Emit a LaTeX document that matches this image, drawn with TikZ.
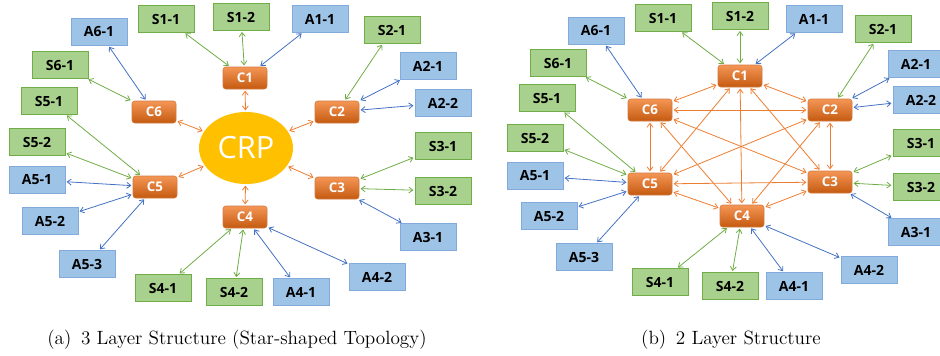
\documentclass[tikz,border=0pt]{standalone}
\usepackage{fontspec}
\setsansfont{Open Sans}
\usetikzlibrary{arrows.meta,shapes.geometric}
\definecolor{grnL}{RGB}{112,173,71}
\definecolor{grnF}{RGB}{169,209,142}
\definecolor{bluL}{RGB}{68,114,196}
\definecolor{bluF}{RGB}{157,195,230}
\definecolor{bluD}{RGB}{130,170,220}
\definecolor{orgL}{RGB}{237,125,49}
\definecolor{orgT}{RGB}{244,150,85}
\definecolor{orgB}{RGB}{197,90,17}
\definecolor{crpF}{RGB}{255,192,0}
\tikzset{
  sbox/.style={draw=grnL,fill=grnF,minimum width=42pt,minimum height=20pt,inner sep=1pt,font=\sffamily\bfseries\fontsize{10.5}{12}\selectfont},
  abox/.style={draw=bluD,fill=bluF,minimum width=42pt,minimum height=20pt,inner sep=1pt,font=\sffamily\bfseries\fontsize{10.5}{12}\selectfont},
  cbox/.style={rounded corners=2pt,top color=orgT,bottom color=orgB,draw=orgB!80,text=white,minimum width=33pt,minimum height=16.5pt,inner sep=1pt,font=\sffamily\bfseries\fontsize{10}{12}\selectfont},
  tips/.style={{Straight Barb[length=3pt,width=4.5pt]}-{Straight Barb[length=3pt,width=4.5pt]},line width=0.6pt,shorten <=1pt,shorten >=1pt},
  gl/.style={tips,grnL},
  bl/.style={tips,bluL},
  ol/.style={tips,orgL}
}
\begin{document}
\begin{tikzpicture}[x=0.75pt,y=-0.75pt]
\useasboundingbox (0,0) rectangle (940,355);
\clip (0,0) rectangle (940,355);
% (a) star-shaped topology
\node[ellipse,fill=crpF,minimum width=70.5pt,minimum height=54pt,inner sep=0pt,text=white,font=\sffamily\fontsize{23}{26}\selectfont] (aCRP) at (246,148) {CRP};
\foreach \n/\x/\y in {C1/245/78,C2/337/112,C3/337/188,C4/245/217,C5/155/187,C6/154/112}{\node[cbox] (a\n) at (\x,\y) {\n};}
\foreach \n/\t/\x/\y in {S11/S1-1/166/19,S12/S1-2/241/17,S21/S2-1/392/30,S31/S3-1/443/146,S32/S3-2/443/191,S41/S4-1/163/288,S42/S4-2/234/292,S51/S5-1/49/101,S52/S5-2/37/142,S61/S6-1/60/65}{\node[sbox] (a\n) at (\x,\y) {\t};}
\foreach \n/\t/\x/\y in {A11/A1-1/320/19,A21/A2-1/428/66,A22/A2-2/443/103,A31/A3-1/428/237,A41/A4-1/301/292,A42/A4-2/377/277,A51/A5-1/37/180,A52/A5-2/50/221,A53/A5-3/87/264,A61/A6-1/99/32}{\node[abox] (a\n) at (\x,\y) {\t};}
\foreach \c in {C1,C2,C3,C4,C5,C6}{\draw[ol] (aCRP) -- (a\c);}
\foreach \c/\l in {C1/S11,C1/S12,C2/S21,C3/S31,C3/S32,C4/S41,C4/S42,C5/S51,C5/S52,C6/S61}{\draw[gl] (a\c) -- (a\l);}
\foreach \c/\l in {C1/A11,C2/A21,C2/A22,C3/A31,C4/A41,C4/A42,C5/A51,C5/A52,C5/A53,C6/A61}{\draw[bl] (a\c) -- (a\l);}
\node[font=\Large] (acap) at (237,340) {(a)\enspace 3 Layer Structure (Star-shaped Topology)};
% (b) full mesh
\foreach \n/\x/\y in {C1/740/76,C2/830/110,C3/830/182,C4/742/216,C5/650/184,C6/650/110}{\node[cbox] (b\n) at (\x,\y) {\n};}
\foreach \n/\t/\x/\y in {S11/S1-1/663/18,S12/S1-2/740/16,S21/S2-1/883/29,S31/S3-1/921/143,S32/S3-2/921/187,S41/S4-1/660/282,S42/S4-2/730/286,S51/S5-1/547/98,S52/S5-2/535/138,S61/S6-1/558/63}{\node[sbox] (b\n) at (\x,\y) {\t};}
\foreach \n/\t/\x/\y in {A11/A1-1/814/19,A21/A2-1/916/64,A22/A2-2/921/100,A31/A3-1/916/232,A41/A4-1/794/286,A42/A4-2/869/270,A51/A5-1/535/176,A52/A5-2/549/216,A53/A5-3/584/257,A61/A6-1/596/31}{\node[abox] (b\n) at (\x,\y) {\t};}
\foreach \c/\d in {C1/C2,C1/C3,C1/C4,C1/C5,C1/C6,C2/C3,C2/C4,C2/C5,C2/C6,C3/C4,C3/C5,C3/C6,C4/C5,C4/C6,C5/C6}{\draw[ol] (b\c) -- (b\d);}
\foreach \c/\l in {C1/S11,C1/S12,C2/S21,C3/S31,C3/S32,C4/S41,C4/S42,C5/S51,C5/S52,C6/S61}{\draw[gl] (b\c) -- (b\l);}
\foreach \c/\l in {C1/A11,C2/A21,C2/A22,C3/A31,C4/A41,C4/A42,C5/A51,C5/A52,C5/A53,C6/A61}{\draw[bl] (b\c) -- (b\l);}
\node[font=\Large] (bcap) at (731,340) {(b)\enspace 2 Layer Structure};
\end{tikzpicture}
\end{document}
